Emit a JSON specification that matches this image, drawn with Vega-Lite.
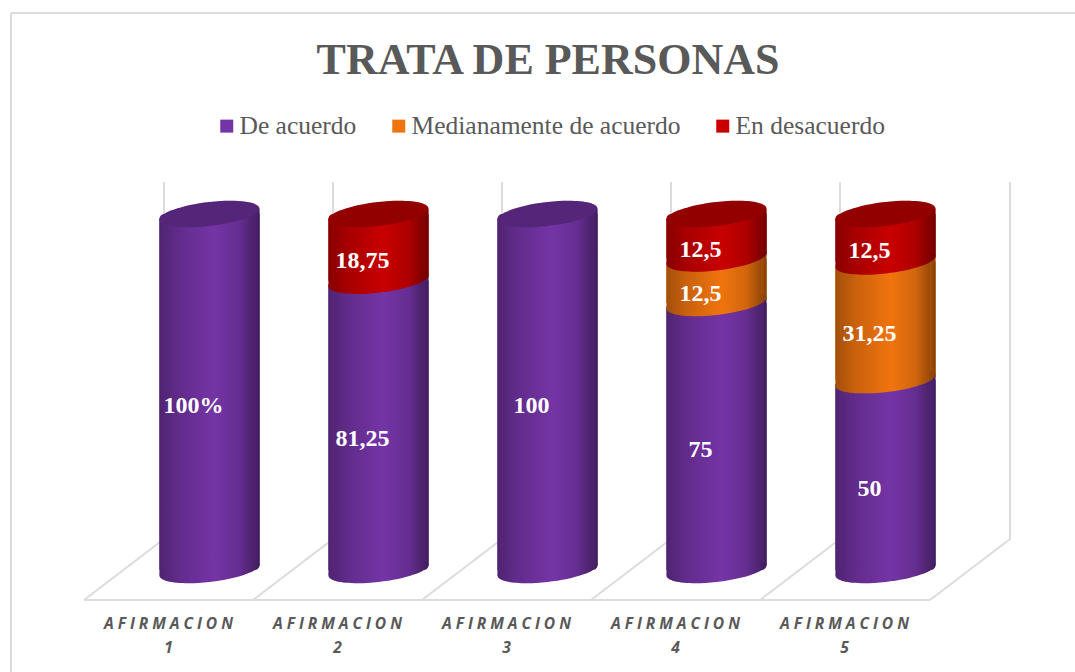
{
"$schema":"https://vega.github.io/schema/vega-lite/v6.json",
"autosize":"none",
"padding":{"left":11,"top":13,"right":0,"bottom":0},
"width":1064,
"height":659,
"background":"white",
"view":{"stroke":null},
"title":{"text":"TRATA DE PERSONAS","font":"Liberation Serif","fontSize":44,"fontWeight":"bold","color":"#595959","anchor":"middle","frame":"group","baseline":"alphabetic","dx":5,"dy":109,"offset":0},
"resolve":{"scale":{"x":"independent"}},
"layer":[
{
"data":{"values":[
{"part":"frameL","seq":1,"px":0,"v":-0.2865},{"part":"frameL","seq":2,"px":0,"v":1.5646},
{"part":"frameT","seq":1,"px":0,"v":1.5646},{"part":"frameT","seq":2,"px":1064,"v":1.5646},
{"part":"front","seq":1,"px":73,"v":-0.0843},{"part":"front","seq":2,"px":919,"v":-0.0843},
{"part":"g1","seq":1,"px":73,"v":-0.0843},{"part":"g1","seq":2,"px":153,"v":0.0871},{"part":"g1","seq":3,"px":153,"v":1.0899},
{"part":"g2","seq":1,"px":242,"v":-0.0843},{"part":"g2","seq":2,"px":322,"v":0.0871},{"part":"g2","seq":3,"px":322,"v":1.0899},
{"part":"g3","seq":1,"px":411,"v":-0.0843},{"part":"g3","seq":2,"px":491,"v":0.0871},{"part":"g3","seq":3,"px":491,"v":1.0899},
{"part":"g4","seq":1,"px":580,"v":-0.0843},{"part":"g4","seq":2,"px":660,"v":0.0871},{"part":"g4","seq":3,"px":660,"v":1.0899},
{"part":"g5","seq":1,"px":749,"v":-0.0843},{"part":"g5","seq":2,"px":829,"v":0.0871},{"part":"g5","seq":3,"px":829,"v":1.0899},
{"part":"g6","seq":1,"px":919,"v":-0.0843},{"part":"g6","seq":2,"px":999,"v":0.0871},{"part":"g6","seq":3,"px":999,"v":1.0899}
]},
"mark":{"type":"line","stroke":"#dcdcdc","strokeWidth":2,"clip":false},
"encoding":{
"x":{"field":"px","type":"quantitative","scale":{"domain":[0,1064],"nice":false,"zero":false},"axis":null},
"y":{"field":"v","type":"quantitative","scale":{"domain":[-0.2865,1.5646],"nice":false,"zero":false},"axis":null},
"detail":{"field":"part"},
"order":{"field":"seq"}
}
},
{
"data":{"values":[
{"cat":"AFIRMACION 1","series":"De acuerdo","rank":1,"value":100,"label":"100%"},
{"cat":"AFIRMACION 2","series":"De acuerdo","rank":1,"value":81.25,"label":"81,25"},
{"cat":"AFIRMACION 2","series":"En desacuerdo","rank":3,"value":18.75,"label":"18,75"},
{"cat":"AFIRMACION 3","series":"De acuerdo","rank":1,"value":100,"label":"100"},
{"cat":"AFIRMACION 4","series":"De acuerdo","rank":1,"value":75,"label":"75"},
{"cat":"AFIRMACION 4","series":"Medianamente de acuerdo","rank":2,"value":12.5,"label":"12,5"},
{"cat":"AFIRMACION 4","series":"En desacuerdo","rank":3,"value":12.5,"label":"12,5"},
{"cat":"AFIRMACION 5","series":"De acuerdo","rank":1,"value":50,"label":"50"},
{"cat":"AFIRMACION 5","series":"Medianamente de acuerdo","rank":2,"value":31.25,"label":"31,25"},
{"cat":"AFIRMACION 5","series":"En desacuerdo","rank":3,"value":12.5,"label":"12,5"}
]},
"transform":[{"stack":"value","groupby":["cat"],"offset":"normalize","sort":[{"field":"rank","order":"ascending"}],"as":["y0","y1"]}],
"encoding":{
"x":{"field":"cat","type":"nominal","scale":{"range":[73,918],"paddingInner":0,"paddingOuter":0},
"axis":{"orient":"bottom","offset":-56,"domain":false,"ticks":false,"grid":false,"title":null,"labelAngle":0,"labelPadding":0,"labelFont":"Open Sans","labelFontStyle":"italic","labelFontWeight":"bold","labelFontSize":15.6,"labelColor":"#595959","labelLineHeight":24,"labelLimit":300,"labelOverlap":false,"labelBaseline":"top","labelExpr":"[join(split(slice(datum.label,0,10),''),'\u2005'), slice(datum.label,11)]"}}
},
"layer":[
{"mark":{"type":"bar","size":100,"xOffset":41,"cornerRadiusTopLeft":5,"cornerRadiusBottomRight":5},
"encoding":{
"y":{"field":"y1","type":"quantitative","scale":{"domain":[-0.2865,1.5646],"nice":false,"zero":false},"axis":null},
"y2":{"field":"y0"},
"color":{"field":"series","type":"nominal","scale":{"domain":["De acuerdo","Medianamente de acuerdo","En desacuerdo"],"range":["#7434A6","#F0740E","#C80000"]},
"legend":{"orient":"none","legendX":203,"legendY":100,"direction":"horizontal","columns":3,"title":null,"symbolType":"square","symbolSize":169,"symbolStrokeWidth":0,"labelFont":"Liberation Serif","labelFontSize":25.5,"labelColor":"#595959","labelLimit":400,"columnPadding":29,"labelOffset":0}}
}},
{"mark":{"type":"bar","size":100,"xOffset":41,"cornerRadiusTopLeft":5,"cornerRadiusBottomRight":5,"fill":{"gradient":"linear","x1":0,"x2":1,"y1":0,"y2":0,"stops":[{"offset":0,"color":"rgba(0,0,0,0.32)"},{"offset":0.2,"color":"rgba(0,0,0,0.16)"},{"offset":0.55,"color":"rgba(0,0,0,0)"},{"offset":0.8,"color":"rgba(0,0,0,0.13)"},{"offset":1,"color":"rgba(0,0,0,0.45)"}]}},
"encoding":{"y":{"field":"y1","type":"quantitative"},"y2":{"field":"y0"}}},
{"mark":{"type":"bar","size":5,"xOffset":88.5,"yOffset":-5,"y2Offset":-5},
"encoding":{"y":{"field":"y1","type":"quantitative"},"y2":{"field":"y0"},"color":{"field":"series","type":"nominal","legend":null}}},
{"mark":{"type":"bar","size":5,"xOffset":88.5,"yOffset":-5,"y2Offset":-5,"fill":{"gradient":"linear","x1":0,"x2":1,"y1":0,"y2":0,"stops":[{"offset":0,"color":"rgba(0,0,0,0.32)"},{"offset":1,"color":"rgba(0,0,0,0.45)"}]}},
"encoding":{"y":{"field":"y1","type":"quantitative"},"y2":{"field":"y0"}}},
{"mark":{"type":"bar","size":5,"xOffset":-6.5,"yOffset":5,"y2Offset":5},
"encoding":{"y":{"field":"y1","type":"quantitative"},"y2":{"field":"y0"},"color":{"field":"series","type":"nominal","legend":null}}},
{"mark":{"type":"bar","size":5,"xOffset":-6.5,"yOffset":5,"y2Offset":5,"fill":{"gradient":"linear","x1":0,"x2":1,"y1":0,"y2":0,"stops":[{"offset":0,"color":"rgba(0,0,0,0.32)"},{"offset":1,"color":"rgba(0,0,0,0.28)"}]}},
"encoding":{"y":{"field":"y1","type":"quantitative"},"y2":{"field":"y0"}}},
{"mark":{"type":"point","filled":true,"opacity":1,"size":10000,"xOffset":41,"strokeWidth":0,"shape":"M1,-0.11C1,0.0225,0.5523,0.1792,0,0.24C-0.5523,0.3008,-1,0.2425,-1,0.11C-1,-0.0225,-0.5523,-0.1792,0,-0.24C0.5523,-0.3008,1,-0.2425,1,-0.11Z"},
"encoding":{"y":{"field":"y0","type":"quantitative"},"color":{"field":"series","type":"nominal","legend":null}}},
{"mark":{"type":"point","filled":true,"opacity":1,"size":10000,"xOffset":41,"strokeWidth":0,"shape":"M1,-0.11C1,0.0225,0.5523,0.1792,0,0.24C-0.5523,0.3008,-1,0.2425,-1,0.11C-1,-0.0225,-0.5523,-0.1792,0,-0.24C0.5523,-0.3008,1,-0.2425,1,-0.11Z","fill":{"gradient":"linear","x1":0,"x2":1,"y1":0,"y2":0,"stops":[{"offset":0,"color":"rgba(0,0,0,0.32)"},{"offset":0.2,"color":"rgba(0,0,0,0.16)"},{"offset":0.55,"color":"rgba(0,0,0,0)"},{"offset":0.8,"color":"rgba(0,0,0,0.13)"},{"offset":1,"color":"rgba(0,0,0,0.45)"}]}},
"encoding":{"y":{"field":"y0","type":"quantitative"}}},
{"transform":[{"filter":"datum.y1 > 0.999"}],
"mark":{"type":"point","filled":true,"opacity":1,"size":10000,"xOffset":41,"strokeWidth":0,"shape":"M1,-0.11C1,0.0225,0.5523,0.1792,0,0.24C-0.5523,0.3008,-1,0.2425,-1,0.11C-1,-0.0225,-0.5523,-0.1792,0,-0.24C0.5523,-0.3008,1,-0.2425,1,-0.11Z"},
"encoding":{"y":{"field":"y1","type":"quantitative"},"color":{"field":"series","type":"nominal","legend":null}}},
{"transform":[{"filter":"datum.y1 > 0.999"}],
"mark":{"type":"point","filled":true,"size":10000,"xOffset":41,"strokeWidth":0,"fill":"black","opacity":0.27,"shape":"M1,-0.11C1,0.0225,0.5523,0.1792,0,0.24C-0.5523,0.3008,-1,0.2425,-1,0.11C-1,-0.0225,-0.5523,-0.1792,0,-0.24C0.5523,-0.3008,1,-0.2425,1,-0.11Z"},
"encoding":{"y":{"field":"y1","type":"quantitative"}}},
{"mark":{"type":"text","font":"Liberation Serif","fontWeight":"bold","fontSize":24,"color":"white","xOffset":25,"dy":13.5,"baseline":"middle"},
"encoding":{"y":{"field":"value","type":"quantitative","stack":"normalize","bandPosition":0.5},"detail":{"field":"series"},"order":{"field":"rank"},"text":{"field":"label","type":"nominal"}}}
]
}
]
}
